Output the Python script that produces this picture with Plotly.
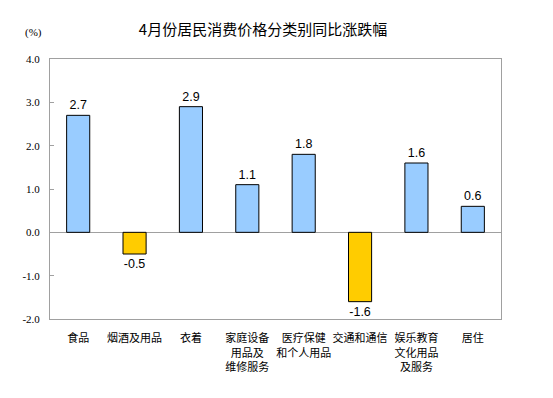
import plotly.graph_objects as go

categories = ["食品", "烟酒及用品", "衣着", "家庭设备<br>用品及<br>维修服务", "医疗保健<br>和个人用品",
              "交通和通信", "娱乐教育<br>文化用品<br>及服务", "居住"]
values = [2.7, -0.5, 2.9, 1.1, 1.8, -1.6, 1.6, 0.6]
tick_vals = [-2, -1, 0, 1, 2, 3, 4]
tick_text = ["-2.0", "-1.0", "0.0", "1.0", "2.0", "3.0", "4.0"]

colors = ["#99CCFF" if v >= 0 else "#FFCC00" for v in values]
labels = [f"{v:.1f}" for v in values]

W, H = 545, 390  # page body has an 8px margin
fig = go.Figure()
fig.add_trace(go.Bar(
    x=categories, y=values, marker=dict(color=colors, line=dict(color="black", width=1)),
    width=0.41, text=labels, textposition="outside", cliponaxis=False,
    textfont=dict(family="Liberation Sans, Arial", size=12.5, color="black"),
))
fig.update_layout(
    width=W, height=H,
    margin=dict(l=42, r=52, t=51, b=79, autoexpand=False),
    paper_bgcolor="white", plot_bgcolor="white",
    showlegend=False,
    title=dict(text="4月份居民消费价格分类别同比涨跌幅", x=(263 - 8) / W, xanchor="center",
               y=1 - (30 - 8) / H, yanchor="middle",
               font=dict(family="Noto Sans CJK SC", size=15, color="black")),
    annotations=[dict(text="(%)", x=(33 - 50) / 451, y=(319 - 33) / 260, xref="paper", yref="paper",
                      xanchor="center", yanchor="middle", showarrow=False,
                      font=dict(family="Liberation Serif", size=11, color="black"))],
)
fig.update_xaxes(showline=True, linecolor="#A0A0A0", mirror=True, ticks="", showgrid=False, tickangle=0,
                 automargin=False,
                 tickfont=dict(family="Noto Sans CJK SC", size=11, color="black"), ticklabelstandoff=9)
fig.update_yaxes(range=[-2, 4], tickvals=tick_vals, ticktext=tick_text, showline=True, linecolor="#A0A0A0",
                 mirror=True, ticks="inside", ticklen=4, tickcolor="#A0A0A0", showgrid=False, automargin=False,
                 zeroline=True, zerolinecolor="#A0A0A0", zerolinewidth=1,
                 tickfont=dict(family="Liberation Serif", size=11, color="black"), ticklabelstandoff=7)
fig.write_html("out.html")
